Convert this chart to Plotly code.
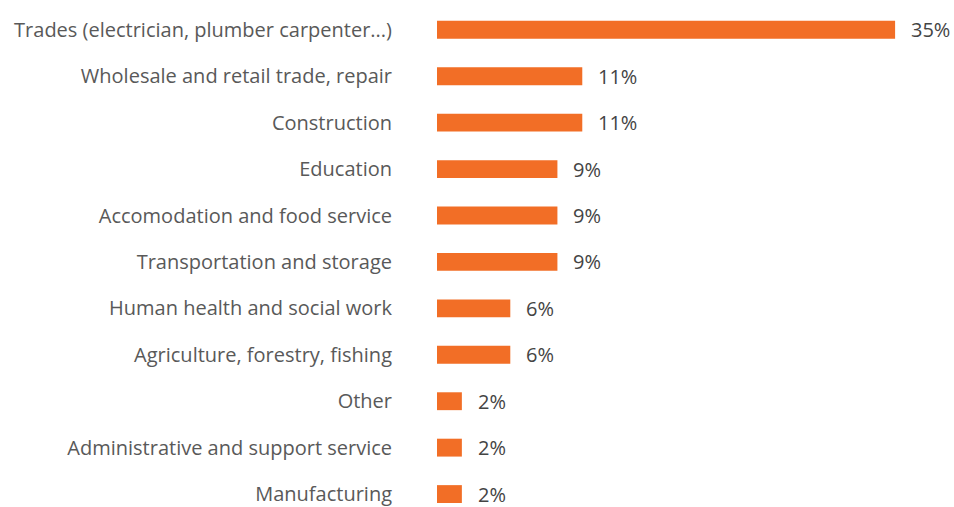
import plotly.graph_objects as go

categories = [
    "Trades (electrician, plumber carpenter...)",
    "Wholesale and retail trade, repair",
    "Construction",
    "Education",
    "Accomodation and food service",
    "Transportation and storage",
    "Human health and social work",
    "Agriculture, forestry, fishing",
    "Other",
    "Administrative and support service",
    "Manufacturing",
]
values = [35.0, 11.1, 11.1, 9.2, 9.2, 9.2, 5.6, 5.6, 1.9, 1.9, 1.9]
value_labels = ["35%", "11%", "11%", "9%", "9%", "9%", "6%", "6%", "2%", "2%", "2%"]

BAR_COLOR = "#F26E26"
FONT = "Open Sans"

fig = go.Figure(
    go.Bar(
        x=values,
        y=categories,
        orientation="h",
        marker=dict(color=BAR_COLOR, line=dict(width=0)),
        hoverinfo="skip",
    )
)

for cat, v, lab in zip(categories, values, value_labels):
    fig.add_annotation(
        x=v, y=cat, text=lab, showarrow=False, xanchor="left", yanchor="middle",
        xshift=14, font=dict(family=FONT, size=20, color="#444444"),
    )

fig.update_layout(
    width=954,
    height=507,
    margin=dict(l=437, r=0, t=0, b=0),
    paper_bgcolor="white",
    plot_bgcolor="white",
    bargap=0.615,
    showlegend=False,
    font=dict(family=FONT, size=20, color="#595959"),
)
fig.update_xaxes(range=[0, 39.5], visible=False, showgrid=False, zeroline=False)
fig.update_yaxes(
    type="category",
    categoryorder="array",
    categoryarray=categories,
    range=[10.214, -0.642],
    showgrid=False,
    zeroline=False,
    showline=False,
    ticks="",
    ticklabelstandoff=44,
    tickfont=dict(family=FONT, size=20, color="#595959"),
)

fig.write_html(
    "out.html",
    config={"displayModeBar": False},
    post_script="document.body.style.margin='0';document.body.style.overflow='hidden';",
)
